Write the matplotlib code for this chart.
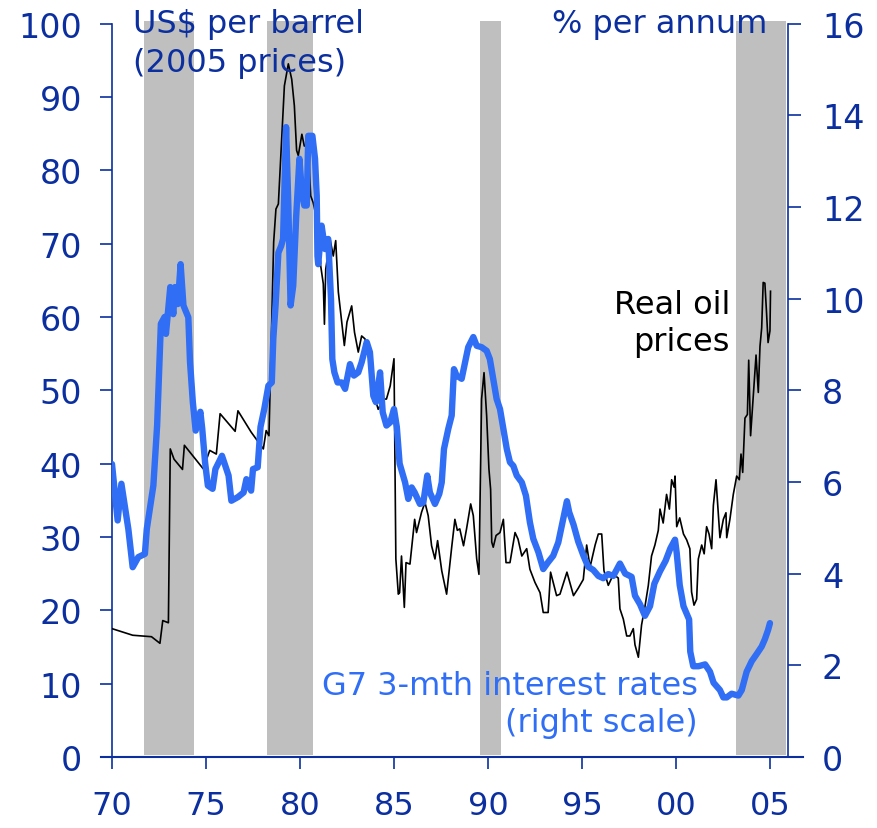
import matplotlib
matplotlib.use("Agg")
import matplotlib.pyplot as plt
from matplotlib.lines import Line2D

# ---------------- data ----------------
oil_years = [1970.0, 1971.1, 1972.1, 1972.55, 1972.7, 1973.0, 1973.1, 1973.3, 1973.75, 1973.85,
             1974.85, 1975.2, 1975.55, 1975.75, 1976.55, 1976.7, 1977.4, 1978.05, 1978.2, 1978.35,
             1978.6, 1978.72, 1978.85, 1979.17, 1979.38, 1979.56, 1979.7, 1979.82, 1979.91, 1980.1,
             1980.23, 1980.44, 1980.57, 1980.7, 1980.97, 1981.1, 1981.24, 1981.3, 1981.37, 1981.6,
             1981.77, 1981.9, 1982.04, 1982.36, 1982.5, 1982.75, 1982.9, 1983.1, 1983.28, 1983.46,
             1983.72, 1983.9, 1984.16, 1984.43, 1984.6, 1984.8, 1985.0, 1985.1, 1985.23, 1985.3,
             1985.4, 1985.55, 1985.64, 1985.85, 1986.1, 1986.2, 1986.47, 1986.65, 1986.82, 1987.0,
             1987.18, 1987.32, 1987.54, 1987.8, 1988.07, 1988.24, 1988.37, 1988.5, 1988.7, 1988.86,
             1989.08, 1989.22, 1989.4, 1989.52, 1989.66, 1989.79, 1989.93, 1990.05, 1990.14, 1990.2,
             1990.28, 1990.43, 1990.64, 1990.82, 1990.96, 1991.17, 1991.44, 1991.6, 1991.8, 1992.06,
             1992.23, 1992.5, 1992.77, 1992.94, 1993.2, 1993.33, 1993.65, 1993.83, 1994.2, 1994.55,
             1994.8, 1995.07, 1995.25, 1995.43, 1995.7, 1995.87, 1996.05, 1996.17, 1996.4, 1996.67,
             1996.93, 1997.02, 1997.2, 1997.38, 1997.55, 1997.73, 1997.82, 1998.0, 1998.17, 1998.35,
             1998.53, 1998.7, 1998.88, 1999.06, 1999.15, 1999.32, 1999.5, 1999.65, 1999.77, 1999.9,
             1999.95, 2000.04, 2000.2, 2000.4, 2000.57, 2000.74, 2000.83, 2000.96, 2001.1, 2001.19,
             2001.37, 2001.5, 2001.63, 2001.76, 2001.9, 2001.99, 2002.13, 2002.25, 2002.34, 2002.52,
             2002.66, 2002.7, 2002.87, 2003.05, 2003.23, 2003.37, 2003.46, 2003.55, 2003.67, 2003.8,
             2003.87, 2003.97, 2004.1, 2004.26, 2004.38, 2004.47, 2004.56, 2004.64, 2004.73, 2004.82,
             2004.9, 2005.0, 2005.03]
oil_price = [17.5, 16.6, 16.4, 15.5, 18.6, 18.3, 42.0, 40.6, 39.2, 42.5,
             39.3, 41.8, 41.3, 46.8, 44.4, 47.2, 44.3, 42.0, 44.5, 43.8,
             70.2, 74.7, 75.4, 91.5, 94.5, 92.4, 88.8, 82.7, 82.0, 84.9,
             83.3, 83.3, 76.5, 75.6, 72.4, 67.0, 64.5, 59.0, 66.5, 70.6,
             68.3, 70.4, 63.4, 56.1, 59.3, 61.5, 57.9, 55.2, 57.4, 57.0,
             53.6, 49.7, 47.4, 48.8, 48.8, 50.6, 54.3, 27.0, 22.2, 22.4,
             27.4, 20.4, 26.5, 26.3, 32.4, 30.6, 33.4, 34.7, 32.9, 28.8,
             27.0, 29.5, 25.4, 22.2, 28.6, 32.4, 30.9, 31.1, 28.8, 31.1,
             34.5, 32.9, 27.0, 24.9, 48.8, 52.4, 46.5, 39.3, 36.5, 29.3,
             28.6, 30.2, 30.6, 32.4, 26.5, 26.5, 30.6, 29.7, 27.4, 28.4,
             25.6, 23.8, 22.4, 19.7, 19.7, 25.2, 22.0, 22.2, 25.2, 22.0,
             23.0, 24.2, 28.9, 25.9, 28.9, 30.4, 30.4, 25.4, 23.4, 24.9,
             24.4, 20.2, 18.8, 16.5, 16.5, 17.5, 15.3, 13.6, 18.0, 20.5,
             23.4, 27.4, 28.9, 30.9, 33.8, 31.9, 35.8, 33.8, 37.8, 36.8,
             38.3, 31.4, 32.6, 30.4, 29.6, 28.4, 22.5, 20.7, 21.5, 27.0,
             28.9, 27.7, 31.4, 30.4, 28.4, 34.3, 37.8, 33.3, 29.9, 32.4,
             33.3, 29.9, 32.4, 35.8, 38.3, 37.8, 41.3, 38.8, 46.2, 46.7,
             54.1, 43.8, 48.7, 54.8, 49.7, 56.0, 58.5, 64.7, 64.6, 60.5,
             56.5, 58.1, 63.5]

rate_years = [1970.0, 1970.3, 1970.5, 1970.87, 1971.1, 1971.4, 1971.75, 1971.85, 1972.2, 1972.4,
              1972.6, 1972.8, 1972.87, 1973.1, 1973.26, 1973.35, 1973.5, 1973.65, 1973.8, 1974.06,
              1974.15, 1974.3, 1974.45, 1974.7, 1974.8, 1974.95, 1975.1, 1975.35, 1975.5, 1975.85,
              1976.2, 1976.35, 1976.7, 1977.0, 1977.15, 1977.4, 1977.5, 1977.75, 1977.9, 1978.1,
              1978.32, 1978.5, 1978.58, 1978.7, 1978.85, 1979.0, 1979.1, 1979.26, 1979.38, 1979.5,
              1979.64, 1979.8, 1979.97, 1980.1, 1980.23, 1980.36, 1980.44, 1980.66, 1980.8, 1980.89,
              1980.93, 1980.97, 1981.15, 1981.33, 1981.5, 1981.65, 1981.72, 1981.83, 1982.0, 1982.22,
              1982.4, 1982.66, 1982.87, 1983.1, 1983.28, 1983.55, 1983.72, 1983.9, 1984.04, 1984.26,
              1984.4, 1984.6, 1984.8, 1985.0, 1985.15, 1985.3, 1985.59, 1985.76, 1985.94, 1986.1,
              1986.38, 1986.56, 1986.77, 1986.91, 1987.18, 1987.41, 1987.54, 1987.66, 1987.89, 1988.07,
              1988.19, 1988.33, 1988.6, 1988.78, 1988.95, 1989.22, 1989.4, 1989.66, 1989.93, 1990.1,
              1990.25, 1990.46, 1990.64, 1990.85, 1991.0, 1991.17, 1991.35, 1991.53, 1991.8, 1992.02,
              1992.23, 1992.41, 1992.68, 1992.94, 1993.2, 1993.47, 1993.74, 1994.0, 1994.2, 1994.32,
              1994.55, 1994.8, 1995.07, 1995.33, 1995.6, 1995.87, 1996.13, 1996.4, 1996.67, 1997.02,
              1997.3, 1997.64, 1997.82, 1998.09, 1998.35, 1998.62, 1998.85, 1999.15, 1999.45, 1999.7,
              1999.95, 2000.04, 2000.2, 2000.4, 2000.7, 2000.76, 2000.92, 2001.2, 2001.55, 2001.81,
              2002.0, 2002.34, 2002.52, 2002.7, 2002.96, 2003.32, 2003.5, 2003.76, 2004.03, 2004.3,
              2004.56, 2004.73, 2004.9, 2005.0]
rate_pct = [6.39, 5.16, 5.96, 4.97, 4.14, 4.36, 4.43, 4.97, 5.92, 7.23,
            9.45, 9.6, 9.23, 10.25, 9.66, 10.25, 9.88, 10.75, 9.85, 9.59,
            8.62, 7.74, 7.12, 7.53, 7.16, 6.43, 5.92, 5.85, 6.28, 6.57,
            6.14, 5.59, 5.67, 5.77, 6.06, 5.81, 6.28, 6.32, 7.2, 7.59,
            8.1, 8.17, 9.12, 9.85, 11.0, 11.15, 11.3, 13.74, 12.03, 9.85,
            10.28, 11.81, 13.05, 12.32, 12.03, 12.03, 13.55, 13.55, 13.05, 12.24,
            10.93, 10.75, 11.59, 11.08, 11.3, 9.99, 8.68, 8.39, 8.17, 8.17,
            8.03, 8.57, 8.32, 8.39, 8.61, 9.05, 8.83, 7.88, 7.74, 8.39,
            7.52, 7.23, 7.3, 7.59, 7.2, 6.4, 5.99, 5.63, 5.88, 5.77,
            5.52, 5.55, 6.14, 5.77, 5.52, 5.74, 5.99, 6.72, 7.16, 7.45,
            8.46, 8.32, 8.25, 8.61, 8.94, 9.16, 8.97, 8.94, 8.86, 8.68,
            8.32, 7.81, 7.59, 7.08, 6.72, 6.43, 6.35, 6.14, 5.99, 5.7,
            5.12, 4.76, 4.47, 4.1, 4.25, 4.39, 4.68, 5.19, 5.58, 5.34,
            5.07, 4.7, 4.4, 4.15, 4.08, 3.95, 3.9, 3.99, 3.95, 4.22,
            4.0, 3.93, 3.52, 3.33, 3.08, 3.29, 3.78, 4.05, 4.28, 4.55,
            4.74, 4.45, 3.75, 3.29, 3.0, 2.3, 1.98, 1.98, 2.02, 1.86,
            1.62, 1.46, 1.30, 1.30, 1.38, 1.34, 1.46, 1.86, 2.09, 2.25,
            2.41, 2.57, 2.77, 2.92]

shade_start = [1971.7, 1978.25, 1989.6, 2003.2]
shade_end = [1974.35, 1980.7, 1990.7, 2005.83]

x_ticks = [1970, 1975, 1980, 1985, 1990, 1995, 2000, 2005]
x_tick_labels = ["70", "75", "80", "85", "90", "95", "00", "05"]
left_ticks = [0, 10, 20, 30, 40, 50, 60, 70, 80, 90, 100]
right_ticks = [0, 2, 4, 6, 8, 10, 12, 14, 16]

# ---------------- style ----------------
NAVY = "#0b2f9f"
BLUE = "#2f6ef5"
GREY = "#bfbfbf"
W, H = 877, 829

plt.rcParams["font.family"] = ["DejaVu Sans"]
fig = plt.figure(figsize=(W / 100, H / 100), dpi=100)
ax = fig.add_axes([112 / W, (H - 758) / H, 676 / W, 733.5 / H])
ax2 = ax.twinx()

ax.set_xlim(1970, 2005.96)
ax.set_ylim(0, 100)
ax2.set_ylim(0, 16)

for s, e in zip(shade_start, shade_end):
    ax.axvspan(s, e, ymin=0.003, ymax=1.004, color=GREY, lw=0, clip_on=False, zorder=0)

ax.plot(oil_years, oil_price, color="black", lw=1.2, zorder=3)
ax2.plot(rate_years, rate_pct, color=BLUE, lw=4.6, solid_joinstyle="round",
         solid_capstyle="round", zorder=4)

for a in (ax, ax2):
    a.spines["top"].set_visible(False)
    a.spines["bottom"].set_visible(False)
    a.spines["left"].set_color(NAVY)
    a.spines["right"].set_color(NAVY)
    a.spines["left"].set_linewidth(1.2)
    a.spines["right"].set_linewidth(1.2)

ax2.spines["left"].set_visible(False)
ax.spines["right"].set_visible(False)

ax.set_yticks(left_ticks)
ax.tick_params(axis="y", direction="out", length=8.6, width=1.2, color=NAVY,
               labelcolor=NAVY, labelsize=24, pad=13)
ax2.set_yticks(right_ticks)
ax2.tick_params(axis="y", direction="out", length=9.4, width=1.2, color=NAVY,
                labelcolor=NAVY, labelsize=24, pad=15)
ax.set_xticks(x_ticks)
ax.set_xticklabels(x_tick_labels)
ax.tick_params(axis="x", direction="out", length=8.6, width=1.2, color=NAVY,
               labelcolor=NAVY, labelsize=23, pad=15)

# extended bottom axis line
ax.add_line(Line2D([-0.016, 1.022], [0, 0], transform=ax.transAxes, color=NAVY,
                   lw=1.5, clip_on=False, zorder=5))


def ftext(px, py, s, **kw):
    fig.text(px / W, 1 - py / H, s, **kw)


ftext(133, 33, "US$ per barrel", color=NAVY, fontsize=23, ha="left", va="baseline")
ftext(133, 72, "(2005 prices)", color=NAVY, fontsize=23, ha="left", va="baseline")
ftext(767, 33, "% per annum", color=NAVY, fontsize=23, ha="right", va="baseline")
ftext(730, 314, "Real oil", color="black", fontsize=23, ha="right", va="baseline")
ftext(730, 351, "prices", color="black", fontsize=23, ha="right", va="baseline")
ftext(698, 695, "G7 3-mth interest rates", color=BLUE, fontsize=23, ha="right", va="baseline")
ftext(698, 732, "(right scale)", color=BLUE, fontsize=23, ha="right", va="baseline")

fig.savefig("out.png", dpi=100)
